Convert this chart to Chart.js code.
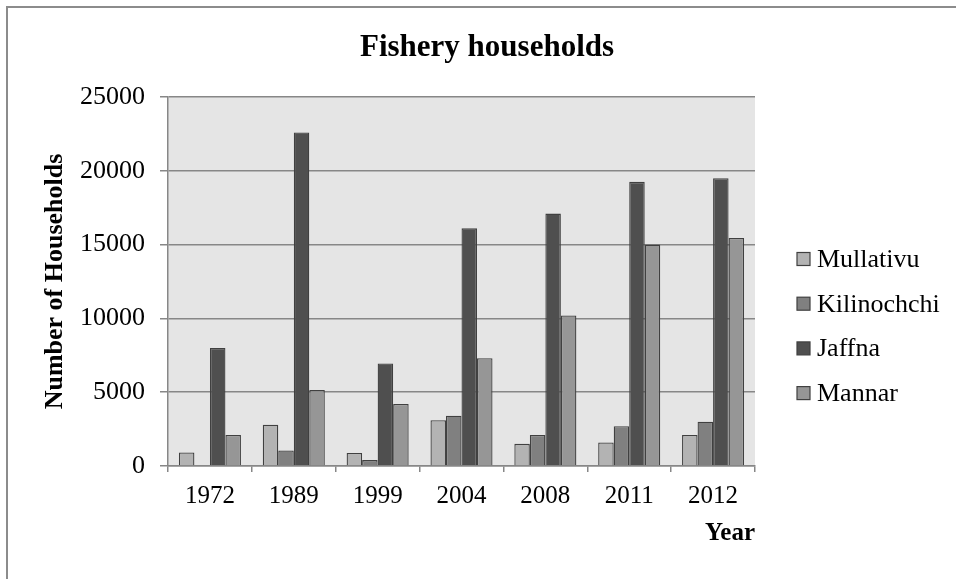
<!DOCTYPE html>
<html>
<head>
<meta charset="utf-8">
<title>Fishery households</title>
<script src="https://cdn.jsdelivr.net/npm/chart.js@4"></script>
<style>
    html, body { margin: 0; padding: 0; background: #fff; overflow: hidden; }
    .frame {
        position: absolute; left: 6px; top: 6px; width: 1000px; height: 1000px;
        border: 2px solid #8c8c8c; box-sizing: border-box;
    }
    #fishChart { position: absolute; left: 0; top: 0; }
</style>
</head>
<body>
<div class="frame"></div>
<canvas id="fishChart" width="956" height="579"></canvas>
<script>
const years = ['1972', '1989', '1999', '2004', '2008', '2011', '2012'];
const mullativu = [920, 2800, 880, 3100, 1500, 1600, 2100];
const kilinochchi = [0, 1050, 400, 3400, 2100, 2700, 3000];
const jaffna = [8000, 22600, 6950, 16100, 17100, 19250, 19500];
const mannar = [2100, 5150, 4200, 7300, 10200, 15000, 15450];

(() => {
    const serif = "'Liberation Serif', 'Times New Roman', serif";
    const gridGrey = '#878787';
    const edge = '#404040';
    const chartTitle = 'Fishery households';

    Chart.defaults.font.family = serif;
    Chart.defaults.color = '#000';

    // grey fill behind the bars
    const plotBackground = {
        id: 'plotBackground',
        beforeDraw(chart) {
            const { ctx, chartArea: a } = chart;
            ctx.save();
            ctx.fillStyle = '#e5e5e5';
            ctx.fillRect(a.left, a.top, a.right - a.left, a.bottom - a.top);
            ctx.restore();
        },
    };

    // title across the top, legend column on the right
    const headerAndLegend = {
        id: 'headerAndLegend',
        afterDraw(chart) {
            const { ctx } = chart;
            ctx.save();
            ctx.fillStyle = '#000';
            ctx.textAlign = 'center';
            ctx.textBaseline = 'middle';
            ctx.font = `bold 31px ${serif}`;
            ctx.fillText(chartTitle, 487, 48);

            const x = 797, y0 = 259, step = 44.7, box = 13;
            ctx.font = `26px ${serif}`;
            ctx.textAlign = 'left';
            chart.data.datasets.forEach((ds, i) => {
                const y = y0 + i * step;
                ctx.fillStyle = ds.backgroundColor;
                ctx.fillRect(x, y - box / 2, box, box);
                ctx.strokeStyle = edge;
                ctx.lineWidth = 1.2;
                ctx.strokeRect(x, y - box / 2, box, box);
                ctx.fillStyle = '#000';
                ctx.fillText(ds.label, x + 20, y + 1);
            });
            ctx.restore();
        },
    };

    const bar = (label, data, color) => ({
        label, data,
        backgroundColor: color,
        borderColor: edge,
        borderWidth: 1.3,
        categoryPercentage: 0.74,
        barPercentage: 1,
    });

    new Chart(document.getElementById('fishChart'), {
        type: 'bar',
        data: {
            labels: years,
            datasets: [
                bar('Mullativu', mullativu, '#b3b3b3'),
                bar('Kilinochchi', kilinochchi, '#808080'),
                bar('Jaffna', jaffna, '#4f4f4f'),
                bar('Mannar', mannar, '#969696'),
            ],
        },
        options: {
            responsive: false,
            animation: false,
            devicePixelRatio: 1,
            layout: { padding: { top: 97, left: 35, right: 201, bottom: 30 } },
            plugins: {
                legend: { display: false },
                tooltip: { enabled: false },
                title: { display: false },
            },
            scales: {
                x: {
                    afterFit: (s) => { s.height = 83; },
                    grid: { drawOnChartArea: false, drawTicks: true, tickLength: 6, color: gridGrey, lineWidth: 1.5 },
                    border: { color: gridGrey, width: 1.5 },
                    ticks: { font: { size: 25 }, padding: 9, maxRotation: 0 },
                    title: { display: true, text: 'Year', align: 'end', font: { size: 25, weight: 'bold' }, padding: 0 },
                },
                y: {
                    min: 0,
                    max: 25000,
                    afterFit: (s) => { s.width = 133; },
                    grid: { color: gridGrey, lineWidth: 1.5, tickLength: 8 },
                    border: { color: gridGrey, width: 1.5 },
                    ticks: { stepSize: 5000, font: { size: 26 }, padding: 15, callback: (v) => String(v) },
                    title: { display: true, text: 'Number of Households', font: { size: 26, weight: 'bold' }, padding: { top: 5 } },
                },
            },
        },
        plugins: [plotBackground, headerAndLegend],
    });
})();
</script>
</body>
</html>
